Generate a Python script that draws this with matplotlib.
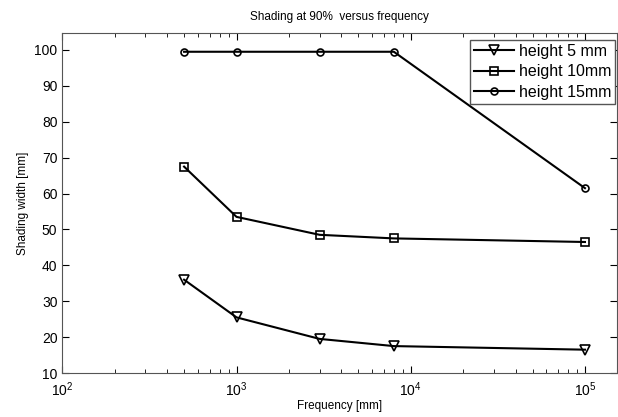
import matplotlib
matplotlib.use("Agg")
import matplotlib.pyplot as plt

plt.rcParams['font.family'] = ['Liberation Sans', 'DejaVu Sans']

freq = [500, 1000, 3000, 8000, 100000]
h5 = [36.0, 25.5, 19.5, 17.5, 16.5]
h10 = [67.5, 53.5, 48.5, 47.5, 46.5]
h15 = [99.5, 99.5, 99.5, 99.5, 61.5]
labels = ['height 5 mm', 'height 10mm', 'height 15mm']

fig = plt.figure(figsize=(6.18, 4.17), dpi=100)
ax = fig.add_axes([0.1008, 0.1055, 0.897, 0.816])

kw = dict(color='black', lw=1.5, mfc='none', mec='black', mew=1.2)
ax.plot(freq, h5, marker='v', ms=7, label=labels[0], **kw)
ax.plot(freq, h10, marker='s', ms=6, label=labels[1], **kw)
ax.plot(freq, h15, marker='o', ms=5, label=labels[2], **kw)

ax.set_xscale('log')
ax.set_xlim(100, 1.52e5)
ax.set_ylim(10, 104.8)
ax.set_yticks(range(10, 101, 10))
ax.tick_params(direction='in', which='both', top=True, right=True, labelsize=10)
ax.tick_params(which='major', length=5)
ax.tick_params(which='minor', length=3)
ax.tick_params(axis='x', pad=5)
for s in ax.spines.values():
    s.set_color('#555555')

ax.set_title('Shading at 90%  versus frequency', fontsize=8.5, pad=9)
ax.set_xlabel('Frequency [mm]', fontsize=8.5, labelpad=1)
ax.set_ylabel('Shading width [mm]', fontsize=8.5)

leg = ax.legend(loc='upper right', fontsize=11.5, fancybox=False, framealpha=1,
                edgecolor='#555555', handlelength=2.5, borderpad=0.25,
                labelspacing=0.35, handletextpad=0.3, borderaxespad=0,
                bbox_to_anchor=(0.997, 0.979))

fig.savefig('out.png', dpi=100)
